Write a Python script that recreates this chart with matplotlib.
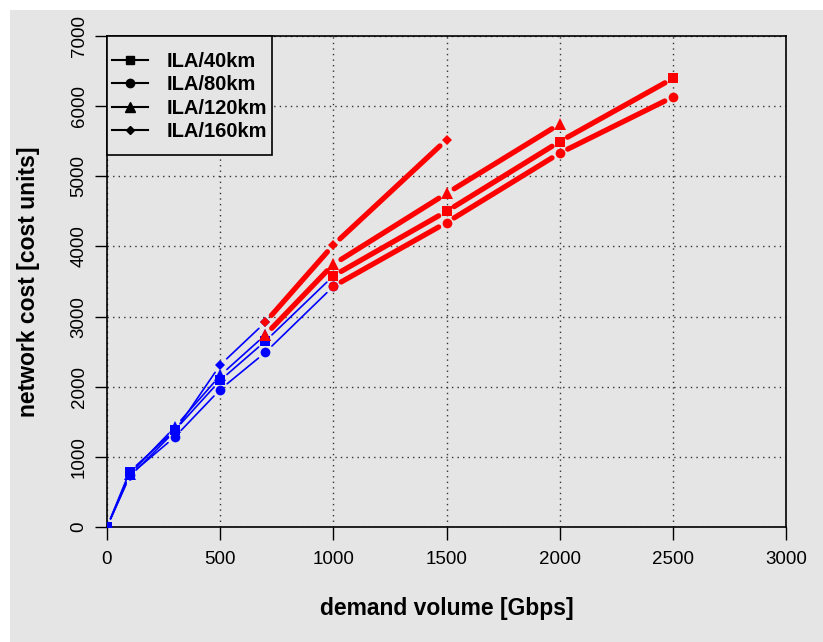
import numpy as np
import matplotlib
matplotlib.use('Agg')
import matplotlib.pyplot as plt
from matplotlib.lines import Line2D
from matplotlib.patches import Rectangle

plt.rcParams['font.family'] = ['Liberation Sans', 'DejaVu Sans']

# blue part (thin lines), demand up to 1000 Gbps
blue_x_long = [0, 100, 300, 500, 700, 1000]
blue_x_short = [0, 100, 300, 500, 700]
blue_40 = [0, 790, 1380, 2090, 2650, 3580]
blue_80 = [0, 740, 1285, 1960, 2490, 3430]
blue_120 = [0, 755, 1425, 2160, 2740]
blue_160 = [0, 720, 1365, 2310, 2920]

# red part (thick lines)
red_x_40 = [1000, 1500, 2000, 2500]
red_40 = [3580, 4500, 5495, 6395]
red_x_80 = [1000, 1500, 2000, 2500]
red_80 = [3430, 4340, 5330, 6130]
red_x_120 = [700, 1000, 1500, 2000]
red_120 = [2740, 3745, 4755, 5745]
red_x_160 = [700, 1000, 1500]
red_160 = [2920, 4020, 5520]

labels = ['ILA/40km', 'ILA/80km', 'ILA/120km', 'ILA/160km']
markers = ['s', 'o', '^', 'D']
msizes = [7, 7, 8, 5]

bg = '#e5e5e5'
W, H = 823, 642
fig = plt.figure(figsize=(W / 100, H / 100), dpi=100, facecolor='white')
fig.patches.append(Rectangle((10 / W, 0), 1, 1 - 10 / H, transform=fig.transFigure,
                             facecolor=bg, edgecolor='none', zorder=-10))

ax = fig.add_axes([107 / W, 1 - 527 / H, (786 - 107) / W, (527 - 36) / H])
ax.set_facecolor(bg)
ax.set_xlim(0, 3000)
ax.set_ylim(0, 7000)
ax.set_xticks(np.arange(0, 3001, 500))
ax.set_yticks(np.arange(0, 7001, 1000))
ax.grid(True, color='#333333', linestyle=(0, (1, 3)), linewidth=1)
for s in ax.spines.values():
    s.set_linewidth(1.2)
ax.tick_params(direction='out', length=9, width=1, labelsize=13.5, pad=8)
ax.tick_params(axis='y', labelrotation=90, pad=5)
for t in ax.get_yticklabels():
    t.set_va('center')

ax.set_xlabel('demand volume [Gbps]', fontsize=16.5, fontweight='bold')
ax.set_ylabel('network cost [cost units]', fontsize=16.5, fontweight='bold')
ax.xaxis.set_label_coords(0.5, -(597 - 527) / 491)
ax.yaxis.set_label_coords((40 - 107) / 679, 0.5)


def draw_b(x, y, color, lw, marker, ms, gap=9):
    # lines with gaps around the points, like R type="b"
    pts = ax.transData.transform(np.column_stack([x, y]))
    inv = ax.transData.inverted()
    for p0, p1 in zip(pts[:-1], pts[1:]):
        d = p1 - p0
        L = np.hypot(*d)
        if L <= 2 * gap:
            continue
        u = d / L
        a = inv.transform(p0 + u * gap)
        b = inv.transform(p1 - u * gap)
        ax.plot([a[0], b[0]], [a[1], b[1]], color=color, lw=lw,
                solid_capstyle='round', zorder=3)
    ax.plot(x, y, linestyle='none', marker=marker, ms=ms, color=color,
            markeredgewidth=0, zorder=4)


blue_sets = [(blue_x_long, blue_40), (blue_x_long, blue_80),
             (blue_x_short, blue_120), (blue_x_short, blue_160)]
red_sets = [(red_x_40, red_40), (red_x_80, red_80),
            (red_x_120, red_120), (red_x_160, red_160)]

for (x, y), m, ms in zip(blue_sets, markers, msizes):
    draw_b(x, y, '#0000ff', 1.2, m, ms)
for (x, y), m, ms in zip(red_sets, markers, msizes):
    draw_b(x, y, '#ff0000', 3.8, m, ms)

# legend box drawn separately so the padding matches the R legend
ax.add_patch(Rectangle((107 / W, 1 - 155 / H), 165 / W, 119 / H,
                       transform=fig.transFigure, facecolor=bg,
                       edgecolor='black', lw=1.2, zorder=4.5, clip_on=False))
handles = [Line2D([], [], color='black', lw=1.5, marker=m, ms=ms - 1)
           for m, ms in zip(markers, msizes)]
leg = ax.legend(handles, labels, loc='upper left',
                bbox_to_anchor=(112 / W, 1 - 52 / H),
                bbox_transform=fig.transFigure, frameon=False,
                borderpad=0, borderaxespad=0, handlelength=1.8,
                handletextpad=0.9, labelspacing=0.22,
                prop={'weight': 'bold', 'size': 14.5})
leg.set_zorder(5)

fig.savefig('out.png', dpi=100, facecolor=fig.get_facecolor())
